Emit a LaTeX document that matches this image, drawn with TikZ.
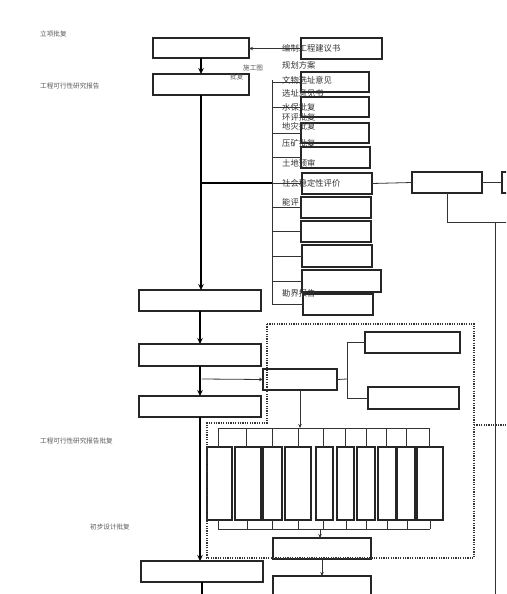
\documentclass[tikz,border=0pt]{standalone}
\usepackage{fontspec}
\newfontfamily\cjk{Noto Sans CJK SC}
\usetikzlibrary{arrows.meta}
\tikzset{
  box/.style={draw=black!85, line width=1.1pt, fill=white, inner sep=0pt, outer sep=0pt, anchor=north west},
  thin/.style={draw=black!80, line width=0.8pt},
  main/.style={draw=black, line width=1.5pt},
  mainarr/.style={main, -{Stealth[length=6pt,width=5.5pt]}},
  thinarr/.style={thin, -{Stealth[length=4pt,width=3.5pt]}},
  dotline/.style={draw=black!80, line width=1.1pt, dash pattern=on 1.2pt off 1.2pt},
  lbl/.style={font=\cjk\fontsize{8.3}{9}\selectfont, text=black!80, inner sep=0pt, anchor=west},
  slbl/.style={font=\cjk\fontsize{6.6}{7}\selectfont, text=black!65, inner sep=0pt, anchor=west}
}
\begin{document}
\begin{tikzpicture}[x=1pt,y=-1pt]
\clip (0,0) rectangle (506,594);
\fill[white] (0,0) rectangle (506,594);

% main column
\node[box, minimum width=96pt, minimum height=20pt] (A) at (153,38) {};
\node[box, minimum width=96pt, minimum height=21pt] (B) at (153,74) {};
\node[box, minimum width=122pt, minimum height=21pt] (C) at (139,290) {};
\node[box, minimum width=122pt, minimum height=22pt] (D) at (139,344) {};
\node[box, minimum width=122pt, minimum height=21pt] (E) at (139,396) {};
\node[box, minimum width=122pt, minimum height=21pt] (G) at (141,561) {};
\node[box, minimum width=74pt, minimum height=21pt] (F) at (263,369) {};
\node[box, minimum width=95pt, minimum height=21pt] (H1) at (365,332) {};
\node[box, minimum width=91pt, minimum height=22pt] (H2) at (368,387) {};
\node[box, minimum width=98pt, minimum height=21pt] (K) at (273,538) {};
\node[box, minimum width=98pt, minimum height=26pt] (L) at (273,576) {};

% stack of approval boxes
\node[box, minimum width=81pt, minimum height=21pt] (S1) at (301,38) {};
\node[box, minimum width=68pt, minimum height=20pt] (S2) at (301,72) {};
\node[box, minimum width=68pt, minimum height=20pt] (S3) at (301,97) {};
\node[box, minimum width=68pt, minimum height=20pt] (S4) at (301,123) {};
\node[box, minimum width=69pt, minimum height=21pt] (S5) at (301,147) {};
\node[box, minimum width=70pt, minimum height=21pt] (S6) at (302,173) {};
\node[box, minimum width=70pt, minimum height=21pt] (S7) at (301,197) {};
\node[box, minimum width=70pt, minimum height=21pt] (S8) at (301,221) {};
\node[box, minimum width=70pt, minimum height=22pt] (S9) at (302,245) {};
\node[box, minimum width=79pt, minimum height=22pt] (S10) at (302,270) {};
\node[box, minimum width=70pt, minimum height=21pt] (S11) at (303,294) {};
\node[box, minimum width=70pt, minimum height=21pt] (I) at (412,172) {};
\node[box, minimum width=30pt, minimum height=21pt] (J) at (502,172) {};

% tall boxes
\foreach \n/\xa/\w in {1/207/25,2/235/26,3/263/19,4/285/26,5/316/17,6/337/17,7/357/18,8/378/18,9/397/18,10/417/26}{
  \node[box, minimum width=\w pt, minimum height=73pt] (T\n) at (\xa,447) {};
}

% connectors main column
\draw[mainarr] (A.south) -- (B.north);
\draw[mainarr] (B.south) -- (B.south |- C.north);
\draw[mainarr] (C.south) -- (C.south |- D.north);
\draw[mainarr] (D.south) -- (D.south |- E.north);
\draw[mainarr] (E.south) -- (E.south |- G.north);
\coordinate (gend) at (202,600);
\draw[main] (G.south -| gend) -- (gend);

% branch to stack
\coordinate (br) at (202,183);
\coordinate (spt) at (272,80);
\coordinate (spb) at (272,305);
\draw[main] (br) -- (br -| spt);
\draw[thin] (spt) -- (spb);
\foreach \s in {S2,S3,S4,S5,S6,S7,S8,S9,S10,S11}{
  \draw[thin] (spt |- \s.west) -- (\s.west);
}
\draw[thinarr] (S1.west) -- (A.east |- S1.west);

% right part
\draw[thin] (S6.east) -- (I.west);
\draw[thin] (I.east) -- (J.west);
\coordinate (rt) at (510,222);
\draw[thin] (I.south) |- (rt);
\coordinate (rvt) at (495,222);
\coordinate (rvb) at (495,600);
\draw[thin] (rvt) -- (rvb);

% D -> F
\coordinate (df) at (202,379);
\draw[thinarr] (df) -- (F.west);
% F -> H
\coordinate (fh) at (347,379);
\draw[thin] (F.east) -- (fh);
\draw[thin] (fh |- H1.west) -- (fh |- H2.west);
\draw[thin] (fh |- H1.west) -- (H1.west);
\draw[thin] (fh |- H2.west) -- (H2.west);

% comb
\coordinate (ctl) at (218,428);
\coordinate (ctr) at (429,428);
\coordinate (cbl) at (218,529);
\coordinate (cbr) at (430,529);
\coordinate (farr) at (300,428);
\draw[thinarr] (F.south -| farr) -- (farr);
\draw[thin] (ctl) -- (ctr);
\draw[thin] (cbl) -- (cbr);
\foreach \n/\xx in {1/218,2/246,3/272,4/298,5/323,6/345,7/366,8/386,9/406,10/429}{
  \draw[thin] (\xx,428) -- (\xx,447);
}
\foreach \n/\xx in {1/218,2/247,3/272,4/298,5/323,6/346,7/366,8/387,9/407,10/430}{
  \draw[thin] (\xx,520) -- (\xx,529);
}
\coordinate (karr) at (320,529);
\draw[thinarr] (karr) -- (karr |- K.north);
\draw[thinarr] (K.south) -- (L.north);

% dotted frame
\draw[dotline] (267,324) -- (474,324) -- (474,558) -- (207,558) -- (207,423) -- (267,423) -- cycle;
\draw[dotline] (474,425) -- (510,425);

% texts
\node[slbl] (t1) at (40,34) {立项批复};
\node[slbl] (t2) at (40,86) {工程可行性研究报告};
\node[slbl] (t3) at (40,441) {工程可行性研究报告批复};
\node[slbl] (t4) at (90,527) {初步设计批复};
\node[slbl] (t5) at (243,68) {施工图};
\node[slbl] (t6) at (230,77) {批复};

\node[lbl] (s1) at (282,48) {编制工程建议书};
\node[lbl] (s2) at (282,65) {规划方案};
\node[lbl] (s3) at (282,80) {文物选址意见};
\node[lbl] (s4) at (282,93) {选址意见书};
\node[lbl] (s5) at (282,107) {水保批复};
\node[lbl] (s6) at (282,117) {环评批复};
\node[lbl] (s7) at (282,126) {地灾批复};
\node[lbl] (s8) at (282,143) {压矿批复};
\node[lbl] (s9) at (282,163) {土地预审};
\node[lbl] (s10) at (282,183) {社会稳定性评价};
\node[lbl] (s11) at (282,202) {能评};
\node[lbl] (s12) at (282,293) {勘界报告};
\end{tikzpicture}
\end{document}
